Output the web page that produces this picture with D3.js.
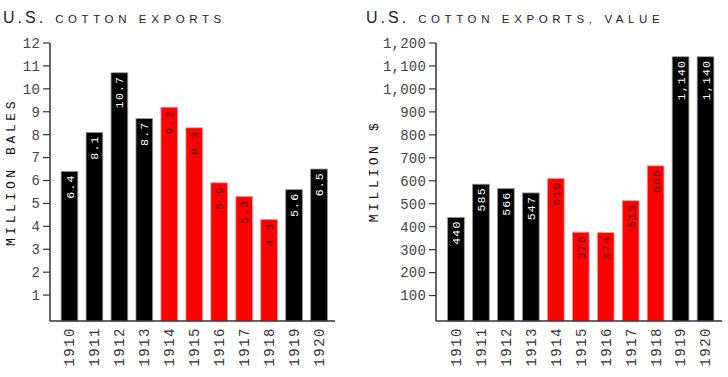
<!DOCTYPE html>
<html><head><meta charset="utf-8">
<script src="https://cdn.jsdelivr.net/npm/d3@7"></script>
<style>
body{margin:0;background:#fff;}
svg{display:block;}
</style></head>
<body>
<svg id="c" width="728" height="377"></svg>
<script>
const years = ["1910","1911","1912","1913","1914","1915","1916","1917","1918","1919","1920"];
const bales = [6.4, 8.1, 10.7, 8.7, 9.2, 8.3, 5.9, 5.3, 4.3, 5.6, 6.5];
const baleLabels = ["6.4","8.1","10.7","8.7","9.2","8.3","5.9","5.3","4.3","5.6","6.5"];
const values = [440, 585, 566, 547, 610, 376, 374, 513, 665, 1140, 1140];
const valueLabels = ["440","585","566","547","610","376","374","513","665","1,140","1,140"];
const warYears = ["1914","1915","1916","1917","1918"];
const balesTicks = [1,2,3,4,5,6,7,8,9,10,11,12];
const valueTicks = [100,200,300,400,500,600,700,800,900,1000,1100,1200];

const svg = d3.select("#c");
const mono = "'Liberation Mono', 'DejaVu Sans Mono', monospace";
const sans = "'Liberation Sans', Arial, sans-serif";

function panel(opts){
  const g = svg.append("g");
  const x = d3.scaleBand().domain(years).range(opts.xRange).paddingInner(0.33).paddingOuter(0.165);
  const y = d3.scaleLinear().domain(opts.domain).range(opts.yRange);
  const base = 321;
  // title
  const t = g.append("text").attr("x", opts.titleX).attr("y", 23)
    .attr("font-family", sans).attr("fill", "#222");
  t.append("tspan").attr("font-size", 16).attr("letter-spacing", 3).text("U.S.");
  t.append("tspan").attr("font-size", 11.5).attr("letter-spacing", 4.6).attr("dx", 9).text(opts.title);
  // axis label
  g.append("text").attr("transform", `translate(${opts.labelX},${opts.labelY}) rotate(-90)`)
    .attr("text-anchor","middle").attr("dy","0.35em")
    .attr("font-family", mono).attr("font-size", 13).attr("letter-spacing", 3.6)
    .attr("fill","#111").text(opts.axisLabel);
  // bars
  g.selectAll("rect.bar").data(years).join("rect")
    .attr("x", d => x(d)).attr("width", x.bandwidth())
    .attr("y", (d,i) => y(opts.data[i])).attr("height", (d,i) => base - y(opts.data[i]))
    .attr("fill", d => warYears.includes(d) ? "#ff0000" : "#000")
    .attr("stroke", d => warYears.includes(d) ? "#ff9a9a" : "#9a9a9a")
    .attr("stroke-width", 0.8);
  // value labels
  g.selectAll("text.val").data(years).join("text")
    .attr("transform", (d,i) => `translate(${x(d)+x.bandwidth()/2},${y(opts.data[i])+3}) rotate(-90)`)
    .attr("text-anchor","end").attr("dy","0.35em")
    .attr("font-family", mono).attr("font-size", 11.5).attr("letter-spacing", 1.2)
    .attr("fill", d => warYears.includes(d) ? "#5a0000" : "#fff")
    .text((d,i) => opts.labels[i]);
  // y axis
  const axisX = opts.axisX;
  g.append("line").attr("x1", axisX).attr("x2", axisX).attr("y1", y(opts.domain[1])).attr("y2", base)
    .attr("stroke","#333").attr("stroke-width",1.5);
  g.append("line").attr("x1", axisX).attr("x2", opts.axisEnd).attr("y1", base).attr("y2", base)
    .attr("stroke","#333").attr("stroke-width",1.5);
  const ticks = g.selectAll("g.tick").data(opts.ticks).join("g")
    .attr("transform", d => `translate(0,${y(d)})`);
  ticks.append("line").attr("x1", axisX-7).attr("x2", axisX).attr("stroke","#333").attr("stroke-width",1.2);
  ticks.append("text").attr("x", axisX-10).attr("dy","0.35em").attr("text-anchor","end")
    .attr("font-family", mono).attr("font-size", 14).attr("letter-spacing", 0.2)
    .attr("fill","#444").text(d => opts.fmt(d));
  // x labels
  g.selectAll("text.yr").data(years).join("text")
    .attr("transform", d => `translate(${x(d)+x.bandwidth()/2},327) rotate(-90)`)
    .attr("text-anchor","end").attr("dy","0.35em")
    .attr("font-family", mono).attr("font-size", 14).attr("letter-spacing", 1.5)
    .attr("fill","#333").text(d => d);
}

panel({xRange:[57,331.5], domain:[0,12], yRange:[318,43], data:bales, labels:baleLabels,
  ticks:balesTicks, fmt:d=>String(d), axisX:50, axisEnd:335, titleX:3, title:"COTTON EXPORTS",
  axisLabel:"MILLION BALES", labelX:10, labelY:172});
panel({xRange:[443.5,718], domain:[0,1200], yRange:[318.5,43], data:values, labels:valueLabels,
  ticks:valueTicks, fmt:d3.format(","), axisX:436, axisEnd:722, titleX:366, title:"COTTON EXPORTS, VALUE",
  axisLabel:"MILLION $", labelX:373, labelY:171});
</script>
</body></html>
